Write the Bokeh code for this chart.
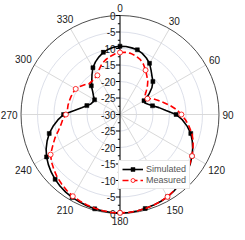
import numpy as np
from bokeh.plotting import figure
from bokeh.models import Range1d, Legend, LegendItem
from bokeh.core.properties import value
from bokeh.embed import file_html
from bokeh.resources import INLINE

# ---------------- data ----------------
angles_deg = list(range(0, 360, 5))

simulated_db = [
    -9.3, -9.3, -9.5, -9.7, -10.3, -11.1, -12.1, -13.6, -14.9, -15.9,
    -17.4, -19.3, -21.6, -21.7, -20.9, -19.8, -18.0, -16.0, -13.0, -11.0,
    -9.3, -7.8, -6.7, -5.7, -4.8, -4.0, -3.3, -2.7, -2.1, -1.6,
    -1.2, -0.9, -0.7, -0.5, -0.3, -0.2, -0.2, -0.2, -0.3, -0.4,
    -0.6, -0.8, -1.0, -1.3, -1.7, -2.2, -2.8, -3.5, -4.3, -5.3,
    -6.5, -7.8, -9.4, -11.1, -12.9, -16.1, -18.2, -19.6, -20.6, -21.0,
    -21.1, -20.2, -19.2, -17.7, -16.7, -15.2, -13.6, -12.4, -11.4, -10.5,
    -9.9, -9.5,
]

measured_db = [
    -11.2, -11.1, -11.2, -11.6, -12.2, -13.2, -14.5, -15.8, -16.9, -18.3,
    -19.8, -21.0, -20.4, -18.8, -17.6, -16.2, -14.5, -12.8, -11.4, -10.0,
    -8.7, -7.4, -6.4, -5.6, -4.8, -4.1, -3.4, -2.8, -2.2, -1.7,
    -1.2, -0.9, -0.7, -0.5, -0.3, -0.2, -0.2, -0.2, -0.4, -0.6,
    -0.8, -1.1, -1.4, -1.9, -2.5, -3.1, -3.9, -4.7, -5.7, -7.5,
    -9.0, -10.6, -11.8, -12.6, -13.6, -14.0, -14.0, -14.1, -14.2, -14.3,
    -14.5, -15.2, -16.0, -16.8, -16.8, -16.6, -16.3, -15.0, -13.8, -12.9,
    -12.2, -11.6,
]

sim_marker_step = 15
meas_marker_step = 30

radial_ticks = [0, -5, -10, -15, -20, -25, -30]
angle_ticks = list(range(0, 360, 30))
r_min, r_max = -30, 0

# ---------------- layout ----------------
W, H = 237, 232
R_PX = 99.0
CX, CY = 119.5, 114.0
S = R_PX / (r_max - r_min)  # px per unit
RR = r_max - r_min

FONT = value("Liberation Sans")

p = figure(width=W, height=H,
           x_range=Range1d(-CX / S, (W - CX) / S),
           y_range=Range1d(-(H - CY) / S, CY / S),
           output_backend="svg", toolbar_location=None,
           x_axis_type=None, y_axis_type=None, min_border=0)
p.outline_line_color = None
p.background_fill_color = "white"
p.border_fill_color = "white"


def pol(deg, db):
    th = np.deg2rad(np.asarray(deg, dtype=float))
    r = np.asarray(db, dtype=float) - r_min
    return r * np.sin(th), r * np.cos(th)


# grid rings
for t in radial_ticks[1:-1]:
    p.circle(x=0, y=0, radius=t - r_min, fill_color=None,
             line_color="#dde0ea", line_width=1)
# spokes
sx, sy = pol(angle_ticks, [r_max] * len(angle_ticks))
p.segment(x0=[0] * len(angle_ticks), y0=[0] * len(angle_ticks), x1=sx, y1=sy,
          line_color="#d9d9d9", line_width=1)
# outer circle
p.circle(x=0, y=0, radius=RR, fill_color=None, line_color="#4d4d4d", line_width=1)

# radial axis (vertical line) with ticks
p.segment(x0=[0], y0=[-RR], x1=[0], y1=[RR], line_color="black", line_width=1)
major_pos = [t - r_min for t in radial_ticks]
major_y = major_pos + [-v for v in major_pos if v > 0]
p.segment(x0=[-1.2] * len(major_y), y0=major_y, x1=[0] * len(major_y), y1=major_y,
          line_color="black", line_width=1)
minor_y = [v + 2.5 for v in major_pos if v + 2.5 <= RR]
minor_y = minor_y + [-v for v in minor_y]
p.segment(x0=[-0.65] * len(minor_y), y0=minor_y, x1=[0] * len(minor_y), y1=minor_y,
          line_color="black", line_width=1)

lab_y, lab_t = [], []
for t in radial_ticks:
    lab_y.append(t - r_min)
    lab_t.append(str(t))
for t in radial_ticks[:-1]:
    lab_y.append(-(t - r_min))
    lab_t.append(str(t))
p.text(x=[-1.35] * len(lab_y), y=lab_y, text=lab_t, text_align="right",
       text_baseline="middle", text_font=FONT, text_font_size="10px",
       text_color="#1a1a1a")

# angle labels
fs = 10.0
ax_, ay_, at_ = [], [], []
for a in angle_ticks:
    s = str(a)
    w = len(s) * 0.556 * fs
    h = 0.74 * fs
    th = np.deg2rad(a)
    half = abs(np.sin(th)) * w / 2 + abs(np.cos(th)) * h / 2
    rpx = R_PX + 3.5 + half
    ax_.append(rpx * np.sin(th) / S)
    ay_.append(rpx * np.cos(th) / S)
    at_.append(s)
p.text(x=ax_, y=ay_, text=at_, text_align="center", text_baseline="middle",
       text_font=FONT, text_font_size="10px", text_color="#1a1a1a")

# series
sim_closed = angles_deg + [360]
sx, sy = pol(sim_closed, simulated_db + [simulated_db[0]])
sim_line = p.line(sx, sy, line_color="black", line_width=1.6)
sim_idx = [i for i, a in enumerate(angles_deg) if a % sim_marker_step == 0]
mx, my = pol([angles_deg[i] for i in sim_idx], [simulated_db[i] for i in sim_idx])
sim_marks = p.scatter(mx, my, marker="square", size=4, fill_color="black",
                      line_color="black", line_width=0.5)

mx2, my2 = pol(sim_closed, measured_db + [measured_db[0]])
meas_line = p.line(mx2, my2, line_color="#ff0000", line_width=1.6, line_dash="6 3")
meas_idx = [i for i, a in enumerate(angles_deg) if a % meas_marker_step == 0]
qx, qy = pol([angles_deg[i] for i in meas_idx], [measured_db[i] for i in meas_idx])
meas_marks = p.scatter(qx, qy, marker="circle", size=5, fill_color="white",
                       line_color="#ff0000", line_width=0.8)

legend = Legend(items=[LegendItem(label="Simulated", renderers=[sim_line, sim_marks]),
                       LegendItem(label="Measured", renderers=[meas_line, meas_marks])],
                location=(118, 43))
legend.glyph_width = 21
legend.glyph_height = 10
legend.label_height = 10
legend.spacing = 1
legend.padding = 3
legend.margin = 0
legend.label_standoff = 3
legend.label_text_font = "Liberation Sans"
legend.label_text_font_size = "9px"
legend.label_text_color = "#555555"
legend.border_line_color = "#d0d0d0"
legend.border_line_width = 1
legend.background_fill_alpha = 1.0
p.add_layout(legend)

open("out.html", "w").write(file_html(p, INLINE))
